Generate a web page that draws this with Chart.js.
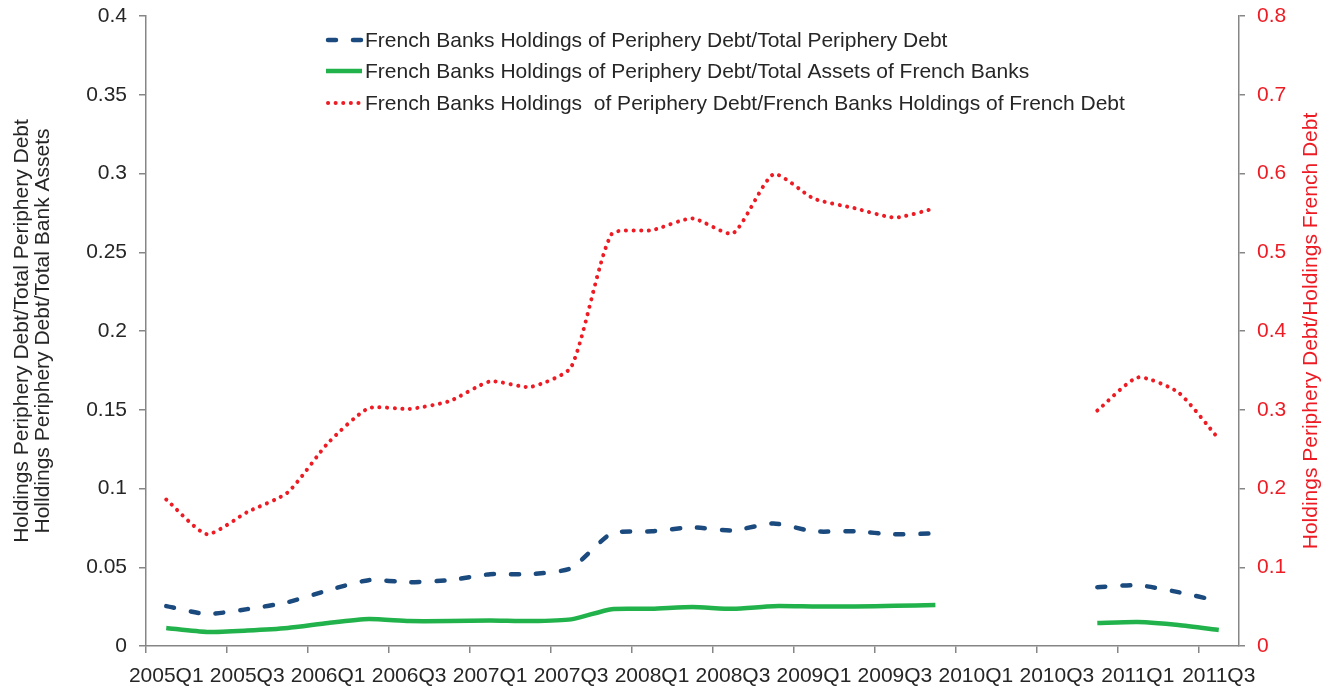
<!DOCTYPE html>
<html>
<head>
<meta charset="utf-8">
<script src="https://cdn.jsdelivr.net/npm/chart.js@4.4.1/dist/chart.umd.min.js"></script>
<style>
  html, body { margin: 0; padding: 0; background: #fff; }
  #wrap { width: 1339px; height: 693px; position: relative; }
</style>
</head>
<body>
<div id="wrap"><canvas id="frChart"></canvas></div>
<script>
// quarters 2005Q1 .. 2011Q3, no data for 2010Q1-2010Q3
const quarters = [
  "2005Q1","2005Q2","2005Q3","2005Q4","2006Q1","2006Q2","2006Q3","2006Q4",
  "2007Q1","2007Q2","2007Q3","2007Q4","2008Q1","2008Q2","2008Q3","2008Q4",
  "2009Q1","2009Q2","2009Q3","2009Q4","2010Q1","2010Q2","2010Q3","2010Q4",
  "2011Q1","2011Q2","2011Q3"
];

// left axis
const shareOfPeriphery = [
  0.0253, 0.0203, 0.0234, 0.0278, 0.0354, 0.0418, 0.0405, 0.0418,
  0.0456, 0.0456, 0.0494, 0.0715, 0.0728, 0.0753, 0.0734, 0.0778,
  0.0728, 0.0728, 0.0709, 0.0715, null, null, null, 0.0373,
  0.0386, 0.0342, 0.0285
];
const shareOfAssets = [
  0.0114, 0.0089, 0.0098, 0.0114, 0.0146, 0.0171, 0.0158, 0.0158,
  0.0162, 0.0158, 0.0169, 0.0234, 0.0236, 0.0247, 0.0236, 0.0253,
  0.0251, 0.0251, 0.0255, 0.0260, null, null, null, 0.0146,
  0.0152, 0.0133, 0.0101
];
// right axis
const shareOfFrenchDebt = [
  0.186, 0.142, 0.170, 0.195, 0.258, 0.302, 0.301, 0.311,
  0.336, 0.329, 0.354, 0.523, 0.528, 0.543, 0.524, 0.599,
  0.568, 0.556, 0.544, 0.556, null, null, null, 0.299,
  0.341, 0.322, 0.263
];

const seriesNames = [
  "French Banks Holdings of Periphery Debt/Total Periphery Debt",
  "French Banks Holdings of Periphery Debt/Total Assets of French Banks",
  "French Banks Holdings  of Periphery Debt/French Banks Holdings of French Debt"
];
const leftTitle = [
  "Holdings Periphery Debt/Total Periphery Debt",
  "Holldings Periphery Debt/Total Bank Assets"
];
const rightTitle = "Holdings Periphery Debt/Holdings French Debt";

const FONT = "'Liberation Sans', Arial, sans-serif";
const FS = 21;
const TXT = "#262626";
const AXIS = "#868686";
const BLUE = "#1b4a7e";
const GREEN = "#21b24b";
const RED = "#ed1c24";

const fmt = v => String(+Number(v).toFixed(2));

// fixed box sizes so the plot sits where the original one does
const fixBox = (w, h) => s => {
  if (w) s.width = w;
  if (h) s.height = h;
  s.paddingTop = 0; s.paddingBottom = 0; s.paddingLeft = 0; s.paddingRight = 0;
};

// legend + right title drawn by hand (right title reads bottom-to-top)
const extras = {
  id: "extras",
  afterDraw(chart) {
    const ctx = chart.ctx;
    const area = chart.chartArea;
    ctx.save();
    ctx.font = FS + "px " + FONT;
    ctx.textBaseline = "middle";
    const rows = [40, 71, 103];
    const styles = [
      { c: BLUE, w: 4.5, d: [8, 17], cap: "round" },
      { c: GREEN, w: 4.5, d: [], cap: "butt" },
      { c: RED, w: 4, d: [0.1, 7.5], cap: "round" }
    ];
    rows.forEach((y, i) => {
      const s = styles[i];
      ctx.beginPath();
      ctx.strokeStyle = s.c;
      ctx.lineWidth = s.w;
      ctx.lineCap = s.cap;
      ctx.setLineDash(s.d);
      ctx.moveTo(s.cap === "round" ? 328 : 326, y);
      ctx.lineTo(362, y);
      ctx.stroke();
      ctx.setLineDash([]);
      ctx.fillStyle = TXT;
      ctx.textAlign = "left";
      ctx.fillText(seriesNames[i], 365, y + 1);
    });
    ctx.translate(1311, (area.top + area.bottom) / 2);
    ctx.rotate(-Math.PI / 2);
    ctx.fillStyle = RED;
    ctx.textAlign = "center";
    ctx.fillText(rightTitle, 0, 0);
    ctx.restore();
  }
};

const lineOpts = { pointRadius: 0, pointHoverRadius: 0, spanGaps: false, tension: 0.2, fill: false };

new Chart(document.getElementById("frChart"), {
  type: "line",
  data: {
    labels: quarters,
    datasets: [
      { ...lineOpts, label: seriesNames[0], data: shareOfPeriphery, yAxisID: "y",
        borderColor: BLUE, borderWidth: 4.5, borderDash: [8, 17], borderCapStyle: "round" },
      { ...lineOpts, label: seriesNames[1], data: shareOfAssets, yAxisID: "y",
        borderColor: GREEN, borderWidth: 4.5 },
      { ...lineOpts, label: seriesNames[2], data: shareOfFrenchDebt, yAxisID: "y1",
        borderColor: RED, borderWidth: 4, borderDash: [0.1, 7.5], borderCapStyle: "round" }
    ]
  },
  options: {
    responsive: true,
    maintainAspectRatio: false,
    animation: false,
    layout: { padding: { top: 16, left: 0, right: 0, bottom: 0 } },
    plugins: { legend: { display: false }, tooltip: { enabled: false } },
    scales: {
      x: {
        type: "category",
        offset: true,
        grid: {
          offset: true,
          drawOnChartArea: false,
          tickLength: 7,
          lineWidth: 1.5,
          color: c => (c.index % 2 === 0 ? AXIS : "rgba(0,0,0,0)")
        },
        border: { color: AXIS, width: 1.5 },
        ticks: {
          autoSkip: false, maxRotation: 0, minRotation: 0,
          color: TXT, font: { size: FS, family: FONT }, padding: 11,
          callback: (v, i) => (i % 2 === 0 ? quarters[i] : "")
        },
        afterFit: fixBox(0, 47)
      },
      y: {
        position: "left",
        min: 0, max: 0.4,
        grid: { drawOnChartArea: false, tickLength: 7, color: AXIS, lineWidth: 1.5 },
        border: { color: AXIS, width: 1.5 },
        ticks: { stepSize: 0.05, color: TXT, font: { size: FS, family: FONT }, padding: 12, callback: fmt },
        title: { display: true, text: leftTitle, color: TXT, font: { size: FS, family: FONT, lineHeight: 1.0 }, padding: { top: 12, bottom: 0 } },
        afterFit: fixBox(146, 0)
      },
      y1: {
        position: "right",
        min: 0, max: 0.8,
        grid: { drawOnChartArea: false, tickLength: 6, color: AXIS, lineWidth: 1.5 },
        border: { color: AXIS, width: 1.5 },
        ticks: { stepSize: 0.1, color: RED, font: { size: FS, family: FONT }, padding: 12, callback: fmt },
        afterFit: fixBox(100, 0)
      }
    }
  },
  plugins: [extras]
});
</script>
</body>
</html>
